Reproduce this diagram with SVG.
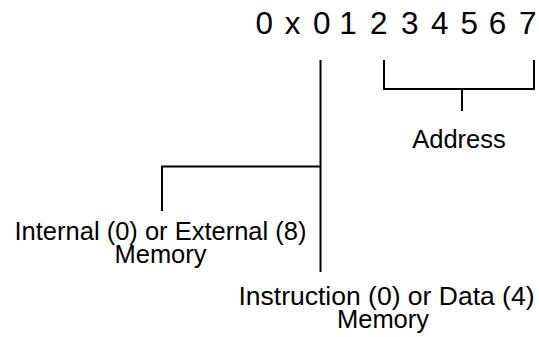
<svg xmlns="http://www.w3.org/2000/svg" width="539" height="337" viewBox="0 0 539 337">
  <style>
    .bg { fill: #ffffff; }
    .wire { fill: none; stroke: #000000; stroke-width: 2; stroke-linecap: butt; stroke-linejoin: miter; }
    .lbl { font-family: "Liberation Sans", Arial, sans-serif; font-size: 25.5px; fill: #000000; text-anchor: middle; }
    .wide { font-size: 26.5px; }
    .hex { font-family: "Liberation Sans", Arial, sans-serif; font-size: 31.5px; fill: #000000; }
  </style>
  <rect class="bg" x="0" y="0" width="539" height="337"/>

  <!-- hexadecimal value, one glyph per position -->
  <g id="value">
    <text class="hex" x="255.4 284.7 313 339.2 370 401 430.9 460.4 488.7 519" y="34">0x01234567</text>
  </g>

  <!-- connectors -->
  <g id="connectors">
    <path class="wire" d="M320.5 60 V272"/>
    <path class="wire" d="M320.5 166.5 H162 V211"/>
    <path class="wire" d="M384 60 V89 H534 V60"/>
    <path class="wire" d="M462 89 V111"/>
  </g>

  <g id="address">
    <text class="lbl" x="459" y="147.5">Address</text>
  </g>

  <g id="internal-external">
    <text class="lbl" x="160.5" y="239.5">Internal (0) or External (8)</text>
    <text class="lbl" x="160.5" y="262.5">Memory</text>
  </g>

  <g id="instruction-data">
    <text class="lbl wide" x="386.5" y="305">Instruction (0) or Data (4)</text>
    <text class="lbl" x="383" y="328">Memory</text>
  </g>
</svg>
